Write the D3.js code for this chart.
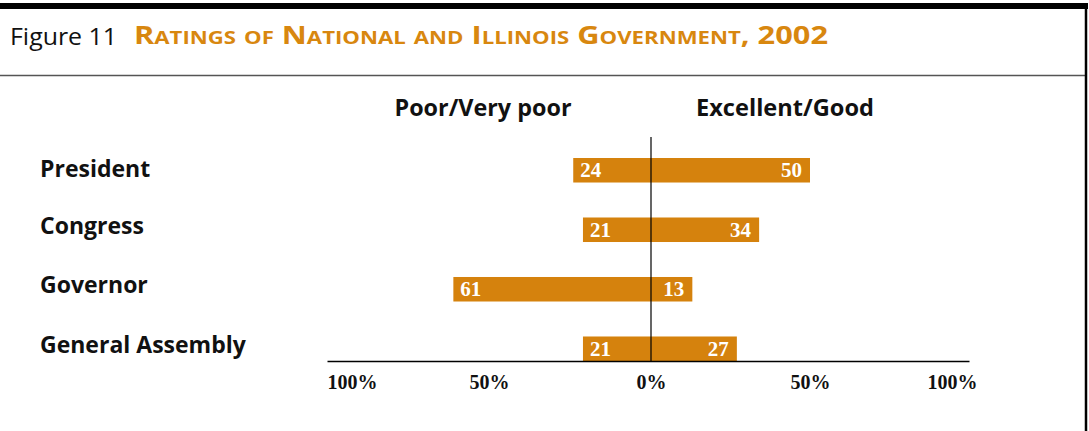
<!DOCTYPE html>
<html lang="en">
<head>
  <meta charset="UTF-8" />
  <title>Figure 11</title>
  <script src="https://d3js.org/d3.v7.min.js"></script>
  <style>
    body { margin: 0; background: #fff; }
    text { font-family: "Open Sans", "Noto Sans", sans-serif; }
    text.num { font-family: "Liberation Serif", "DejaVu Serif", serif; font-weight: bold; }
  </style>
</head>
<body>
  <svg id="chart" width="1089" height="431"></svg>
  <script>
    // data
    const categories = ["President", "Congress", "Governor", "General Assembly"];
    const poorValues = [24, 21, 61, 21];
    const goodValues = [50, 34, 13, 27];
    const tickValues = [-100, -50, 0, 50, 100];
    const tickLabels = ["100%", "50%", "0%", "50%", "100%"];

    const svg = d3.select("svg#chart");
    const orange = "#d5820d";

    // frame
    svg.append("rect").attr("x", 0).attr("y", 3).attr("width", 1088).attr("height", 6).attr("fill", "#000");
    svg.append("line").attr("x1", 0).attr("x2", 1087).attr("y1", 75.5).attr("y2", 75.5)
      .attr("stroke", "#555").attr("stroke-width", 1.5);
    svg.append("line").attr("x1", 1086).attr("x2", 1086).attr("y1", 3).attr("y2", 431)
      .attr("stroke", "#000").attr("stroke-width", 2.5);

    // title
    svg.append("text").attr("x", 10).attr("y", 45).attr("font-size", 23).attr("fill", "#111")
      .attr("textLength", 107).attr("lengthAdjust", "spacingAndGlyphs")
      .text("Figure 11");
    svg.append("text").attr("x", 134).attr("y", 44).attr("font-size", 25)
      .attr("font-weight", "bold").attr("fill", "#d8870f")
      .attr("font-family", "DejaVu Sans")
      .style("font-variant", "small-caps")
      .attr("textLength", 694).attr("lengthAdjust", "spacingAndGlyphs")
      .text("Ratings of National and Illinois Government, 2002");

    // scales
    const x = d3.scaleLinear().domain([-100, 0, 100]).range([327, 651, 969]);
    const y = d3.scaleBand().domain(categories).range([158, 361]).paddingInner(0.588).paddingOuter(0);

    const rows = categories.map((c, i) => ({ name: c, poor: poorValues[i], good: goodValues[i] }));

    // column headers
    svg.append("text").attr("x", 483).attr("y", 116).attr("text-anchor", "middle")
      .attr("font-size", 23).attr("font-weight", "bold").attr("fill", "#111")
      .attr("textLength", 177).attr("lengthAdjust", "spacingAndGlyphs").text("Poor/Very poor");
    svg.append("text").attr("x", 785).attr("y", 116).attr("text-anchor", "middle")
      .attr("font-size", 23).attr("font-weight", "bold").attr("fill", "#111")
      .attr("textLength", 178).attr("lengthAdjust", "spacingAndGlyphs").text("Excellent/Good");

    // bars
    svg.append("g").selectAll("rect")
      .data(rows)
      .join("rect")
      .attr("x", d => x(-d.poor))
      .attr("y", d => y(d.name))
      .attr("width", d => x(d.good) - x(-d.poor))
      .attr("height", y.bandwidth())
      .attr("fill", orange);

    // zero line
    svg.append("line").attr("x1", x(0)).attr("x2", x(0)).attr("y1", 137).attr("y2", 361)
      .attr("stroke", "#000").attr("stroke-width", 1.2);

    // value labels
    const vals = svg.append("g");
    vals.selectAll("text.poor")
      .data(rows)
      .join("text")
      .attr("class", "num poor")
      .attr("font-size", 21)
      .attr("fill", "#fff")
      .attr("x", d => x(-d.poor) + 7)
      .attr("y", d => y(d.name) + y.bandwidth() / 2 + 7)
      .text(d => d.poor);
    vals.selectAll("text.good")
      .data(rows)
      .join("text")
      .attr("class", "num good")
      .attr("font-size", 21)
      .attr("fill", "#fff")
      .attr("text-anchor", "end")
      .attr("x", d => x(d.good) - 8)
      .attr("y", d => y(d.name) + y.bandwidth() / 2 + 7)
      .text(d => d.good);

    // category labels
    svg.append("g").selectAll("text")
      .data(rows)
      .join("text")
      .attr("x", 40)
      .attr("y", (d, i) => y(d.name) + y.bandwidth() / 2 + (i === 0 ? 7 : 4))
      .attr("font-size", 23)
      .attr("font-weight", "bold")
      .attr("fill", "#111")
      .text(d => d.name);

    // bottom axis
    const axis = d3.axisBottom(x).tickValues(tickValues).tickSize(0).tickPadding(14)
      .tickFormat((d, i) => tickLabels[i]);
    const axisG = svg.append("g").attr("transform", "translate(0,361)").call(axis);
    axisG.select(".domain").attr("stroke", "#000").attr("stroke-width", 1.5);
    axisG.selectAll("text")
      .attr("class", "num")
      .attr("font-size", 20)
      .attr("fill", "#111")
      .attr("text-anchor", (d, i) => i === 0 ? "start" : i === tickValues.length - 1 ? "end" : "middle")
      .attr("dx", (d, i) => i === tickValues.length - 1 ? 8 : 0);
  </script>
</body>
</html>
